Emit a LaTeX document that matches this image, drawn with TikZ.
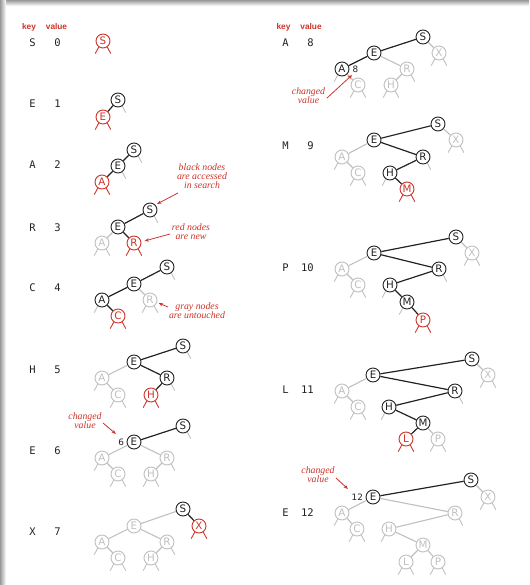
\documentclass[tikz,border=0pt]{standalone}
\usepackage{fontspec}
\usetikzlibrary{arrows.meta}
\newfontfamily\nodefont{DejaVu Sans}
\newfontfamily\kvfont{DejaVu Sans Mono}
\newfontfamily\hdfont{Liberation Sans}
\newfontfamily\notefont{Liberation Serif}
\definecolor{tred}{RGB}{205,52,42}
\definecolor{tgray}{RGB}{192,192,192}
\definecolor{tink}{RGB}{35,35,35}
\tikzset{
  nd/.style={circle,inner sep=0pt,minimum size=14pt,line width=0.9pt,
    font=\nodefont\fontsize{10.3}{11}\selectfont},
  bn/.style={nd,draw=tink,text=tink},
  rn/.style={nd,draw=tred,text=tred},
  gn/.style={nd,draw=tgray,text=tgray},
  be/.style={draw=tink,line width=1.2pt},
  ge/.style={draw=tgray,line width=1.1pt},
  gs/.style={draw=tgray,line width=0.9pt},
  rs/.style={draw=tred,line width=0.9pt},
  kv/.style={font=\kvfont\fontsize{10.5}{12}\selectfont,text=tink,inner sep=0pt},
  hd/.style={font=\hdfont\bfseries\fontsize{8.3}{9}\selectfont,text=tred,inner sep=0pt,anchor=base},
  note/.style={font=\notefont\itshape\fontsize{9.8}{9.2}\selectfont,text=tred,align=center,inner sep=0pt},
  nval/.style={font=\nodefont\fontsize{8.8}{9}\selectfont,text=tink,inner sep=0pt},
  pt/.style={draw=tred,line width=0.8pt,-{Stealth[length=4.5pt,width=3.4pt]}},
}
% null links drawn as short stubs below a node
\newcommand\lstub[2]{\draw[#2] (#1.235) -- ++(-3.5,6.5);}
\newcommand\rstub[2]{\draw[#2] (#1.305) -- ++(3.5,6.5);}
\newcommand\bstub[2]{\lstub{#1}{#2}\rstub{#1}{#2}}
% key and value of one insertion
\newcommand\kvrow[5]{%
  \node[kv,anchor=base] (#1k) at (#2,#4) {#5};}
\newcommand\valat[4]{%
  \node[kv,anchor=base east] (#1v) at (#2,#3) {#4};}

\begin{document}
\begin{tikzpicture}[x=1pt,y=-1pt]
\useasboundingbox (0,0) rectangle (529,585);
\fill[white] (0,0) rectangle (529,585);
\shade[top color=black!40,bottom color=white] (0,0) rectangle (529,6);
\shade[left color=black!40,right color=white] (0,0) rectangle (6,585);

% ---------------- headers ----------------
\node[hd] (hk1) at (29,30) {key};
\node[hd] (hv1) at (56.5,30) {value};
\node[hd] (hk2) at (283.5,30) {key};
\node[hd] (hv2) at (311,30) {value};

% ---------------- keys and values ----------------
\kvrow{r1}{32.5}{}{47}{S}   \valat{r1}{61}{47}{0}
\kvrow{r2}{32.5}{}{108}{E}  \valat{r2}{61}{108}{1}
\kvrow{r3}{32.5}{}{169}{A}  \valat{r3}{61}{169}{2}
\kvrow{r4}{32.5}{}{231}{R}  \valat{r4}{61}{231}{3}
\kvrow{r5}{32.5}{}{291}{C}  \valat{r5}{61}{291}{4}
\kvrow{r6}{32.5}{}{373}{H}  \valat{r6}{61}{373}{5}
\kvrow{r7}{32.5}{}{454}{E}  \valat{r7}{61}{454}{6}
\kvrow{r8}{32.5}{}{535}{X}  \valat{r8}{61}{535}{7}
\kvrow{r9}{285.5}{}{47}{A}   \valat{r9}{314}{47}{8}
\kvrow{r10}{285.5}{}{150}{M} \valat{r10}{314}{150}{9}
\kvrow{r11}{285.5}{}{271}{P} \valat{r11}{314}{271}{10}
\kvrow{r12}{285.5}{}{393}{L} \valat{r12}{314}{393}{11}
\kvrow{r13}{285.5}{}{516}{E} \valat{r13}{314}{516}{12}

% ---------------- S 0 ----------------
\node[rn] (a1S) at (103,41) {S};
\bstub{a1S}{rs}

% ---------------- E 1 ----------------
\node[bn] (a2S) at (118,100) {S};
\node[rn] (a2E) at (103,117) {E};
\draw[be] (a2S) -- (a2E);
\rstub{a2S}{gs} \bstub{a2E}{rs}

% ---------------- A 2 ----------------
\node[bn] (a3S) at (134,150) {S};
\node[bn] (a3E) at (118,166) {E};
\node[rn] (a3A) at (102,182) {A};
\draw[be] (a3S) -- (a3E) (a3E) -- (a3A);
\rstub{a3S}{gs} \rstub{a3E}{gs} \bstub{a3A}{rs}

% ---------------- R 3 ----------------
\node[bn] (a4S) at (150,210) {S};
\node[bn] (a4E) at (118,227) {E};
\node[gn] (a4A) at (102,243) {A};
\node[rn] (a4R) at (134,243) {R};
\draw[be] (a4S) -- (a4E) (a4E) -- (a4R);
\draw[ge] (a4E) -- (a4A);
\rstub{a4S}{gs} \bstub{a4A}{gs} \bstub{a4R}{rs}

% ---------------- C 4 ----------------
\node[bn] (a5S) at (167,267) {S};
\node[bn] (a5E) at (134,284) {E};
\node[bn] (a5A) at (102,300) {A};
\node[gn] (a5R) at (150,300) {R};
\node[rn] (a5C) at (118,316) {C};
\draw[be] (a5S) -- (a5E) (a5E) -- (a5A) (a5A) -- (a5C);
\draw[ge] (a5E) -- (a5R);
\rstub{a5S}{gs} \lstub{a5A}{gs} \bstub{a5R}{gs} \bstub{a5C}{rs}

% ---------------- H 5 ----------------
\node[bn] (a6S) at (183,346) {S};
\node[bn] (a6E) at (134,362) {E};
\node[gn] (a6A) at (102,378) {A};
\node[bn] (a6R) at (167,378) {R};
\node[gn] (a6C) at (118,395) {C};
\node[rn] (a6H) at (151,395) {H};
\draw[be] (a6S) -- (a6E) (a6E) -- (a6R) (a6R) -- (a6H);
\draw[ge] (a6E) -- (a6A) (a6A) -- (a6C);
\rstub{a6S}{gs} \lstub{a6A}{gs} \bstub{a6C}{gs} \rstub{a6R}{gs} \bstub{a6H}{rs}

% ---------------- E 6 ----------------
\node[bn] (a7S) at (183,426) {S};
\node[bn] (a7E) at (134,442) {E};
\node[gn] (a7A) at (102,458) {A};
\node[gn] (a7R) at (167,458) {R};
\node[gn] (a7C) at (118,474) {C};
\node[gn] (a7H) at (151,474) {H};
\draw[be] (a7S) -- (a7E);
\draw[ge] (a7E) -- (a7A) (a7E) -- (a7R) (a7A) -- (a7C) (a7R) -- (a7H);
\rstub{a7S}{gs} \lstub{a7A}{gs} \bstub{a7C}{gs} \rstub{a7R}{gs} \bstub{a7H}{gs}
\node[nval,anchor=east] (a7v) at ([xshift=-2.5pt]a7E.west) {6};

% ---------------- X 7 ----------------
\node[bn] (a8S) at (183,509) {S};
\node[rn] (a8X) at (199,526) {X};
\node[gn] (a8E) at (134,526) {E};
\node[gn] (a8A) at (102,542) {A};
\node[gn] (a8R) at (167,542) {R};
\node[gn] (a8C) at (118,558) {C};
\node[gn] (a8H) at (151,558) {H};
\draw[be] (a8S) -- (a8X);
\draw[ge] (a8S) -- (a8E) (a8E) -- (a8A) (a8E) -- (a8R) (a8A) -- (a8C) (a8R) -- (a8H);
\bstub{a8X}{rs} \lstub{a8A}{gs} \bstub{a8C}{gs} \rstub{a8R}{gs} \bstub{a8H}{gs}

% ---------------- A 8 ----------------
\node[bn] (b1S) at (423,37) {S};
\node[gn] (b1X) at (439,53) {X};
\node[bn] (b1E) at (374,53) {E};
\node[bn] (b1A) at (342,69) {A};
\node[gn] (b1R) at (407,69) {R};
\node[gn] (b1C) at (358,85) {C};
\node[gn] (b1H) at (391,85) {H};
\draw[be] (b1S) -- (b1E) (b1E) -- (b1A);
\draw[ge] (b1S) -- (b1X) (b1E) -- (b1R) (b1A) -- (b1C) (b1R) -- (b1H);
\bstub{b1X}{gs} \lstub{b1A}{gs} \bstub{b1C}{gs} \rstub{b1R}{gs} \bstub{b1H}{gs}
\node[nval,anchor=west] (b1v) at ([xshift=3pt]b1A.east) {8};

% ---------------- M 9 ----------------
\node[bn] (b2S) at (438,124) {S};
\node[gn] (b2X) at (456,140) {X};
\node[bn] (b2E) at (374,140) {E};
\node[gn] (b2A) at (342,157) {A};
\node[bn] (b2R) at (423,157) {R};
\node[gn] (b2C) at (358,173) {C};
\node[bn] (b2H) at (390,173) {H};
\node[rn] (b2M) at (407,189) {M};
\draw[be] (b2S) -- (b2E) (b2E) -- (b2R) (b2R) -- (b2H) (b2H) -- (b2M);
\draw[ge] (b2S) -- (b2X) (b2E) -- (b2A) (b2A) -- (b2C);
\bstub{b2X}{gs} \lstub{b2A}{gs} \bstub{b2C}{gs} \rstub{b2R}{gs} \lstub{b2H}{gs} \bstub{b2M}{rs}

% ---------------- P 10 ----------------
\node[bn] (b3S) at (456,237) {S};
\node[gn] (b3X) at (472,253) {X};
\node[bn] (b3E) at (374,253) {E};
\node[gn] (b3A) at (342,269) {A};
\node[bn] (b3R) at (439,269) {R};
\node[gn] (b3C) at (358,285) {C};
\node[bn] (b3H) at (390,285) {H};
\node[bn] (b3M) at (407,302) {M};
\node[rn] (b3P) at (423,320) {P};
\draw[be] (b3S) -- (b3E) (b3E) -- (b3R) (b3R) -- (b3H) (b3H) -- (b3M) (b3M) -- (b3P);
\draw[ge] (b3S) -- (b3X) (b3E) -- (b3A) (b3A) -- (b3C);
\bstub{b3X}{gs} \lstub{b3A}{gs} \bstub{b3C}{gs} \rstub{b3R}{gs} \lstub{b3H}{gs}
\lstub{b3M}{gs} \bstub{b3P}{rs}

% ---------------- L 11 ----------------
\node[bn] (b4S) at (472,359) {S};
\node[gn] (b4X) at (488,375) {X};
\node[bn] (b4E) at (373,375) {E};
\node[gn] (b4A) at (342,391) {A};
\node[bn] (b4R) at (455,391) {R};
\node[gn] (b4C) at (358,407) {C};
\node[bn] (b4H) at (389,407) {H};
\node[bn] (b4M) at (423,423) {M};
\node[rn] (b4L) at (406,439) {L};
\node[gn] (b4P) at (438,439) {P};
\draw[be] (b4S) -- (b4E) (b4E) -- (b4R) (b4R) -- (b4H) (b4H) -- (b4M) (b4M) -- (b4L);
\draw[ge] (b4S) -- (b4X) (b4E) -- (b4A) (b4A) -- (b4C) (b4M) -- (b4P);
\bstub{b4X}{gs} \lstub{b4A}{gs} \bstub{b4C}{gs} \rstub{b4R}{gs} \lstub{b4H}{gs}
\bstub{b4L}{rs} \bstub{b4P}{gs}

% ---------------- E 12 ----------------
\node[bn] (b5S) at (471,480) {S};
\node[gn] (b5X) at (488,497) {X};
\node[bn] (b5E) at (373,497) {E};
\node[gn] (b5A) at (342,513) {A};
\node[gn] (b5R) at (455,513) {R};
\node[gn] (b5C) at (357,529) {C};
\node[gn] (b5H) at (389,529) {H};
\node[gn] (b5M) at (423,545) {M};
\node[gn] (b5L) at (406,562) {L};
\node[gn] (b5P) at (438,562) {P};
\draw[be] (b5S) -- (b5E);
\draw[ge] (b5S) -- (b5X) (b5E) -- (b5A) (b5E) -- (b5R) (b5A) -- (b5C) (b5R) -- (b5H)
  (b5H) -- (b5M) (b5M) -- (b5L) (b5M) -- (b5P);
\bstub{b5X}{gs} \lstub{b5A}{gs} \bstub{b5C}{gs} \rstub{b5R}{gs} \lstub{b5H}{gs}
\bstub{b5L}{gs} \bstub{b5P}{gs}
\node[nval,anchor=east] (b5v) at ([xshift=-2.5pt]b5E.west) {12};

% ---------------- notes ----------------
\node[note] (n1) at (202,176) {black nodes\\are accessed\\in search};
\coordinate (n1s) at (178,193); \coordinate (n1t) at (157,204);
\draw[pt] (n1s) -- (n1t);

\node[note] (n2) at (191,232) {red nodes\\are new};
\coordinate (n2s) at (170,234); \coordinate (n2t) at (144.5,241);
\draw[pt] (n2s) -- (n2t);

\node[note] (n3) at (197,311) {gray nodes\\are untouched};
\coordinate (n3s) at (168,307); \coordinate (n3t) at (158.5,303);
\draw[pt] (n3s) -- (n3t);

\node[note] (n4) at (85,421) {changed\\value};
\coordinate (n4s) at (103,423); \coordinate (n4t) at (116,434);
\draw[pt] (n4s) -- (n4t);

\node[note] (n5) at (308.5,96) {changed\\value};
\coordinate (n5s) at (327,98); \coordinate (n5t) at (352,75);
\draw[pt] (n5s) -- (n5t);

\node[note] (n6) at (318,475) {changed\\value};
\coordinate (n6s) at (336,478); \coordinate (n6t) at (348,489);
\draw[pt] (n6s) -- (n6t);
\end{tikzpicture}
\end{document}
